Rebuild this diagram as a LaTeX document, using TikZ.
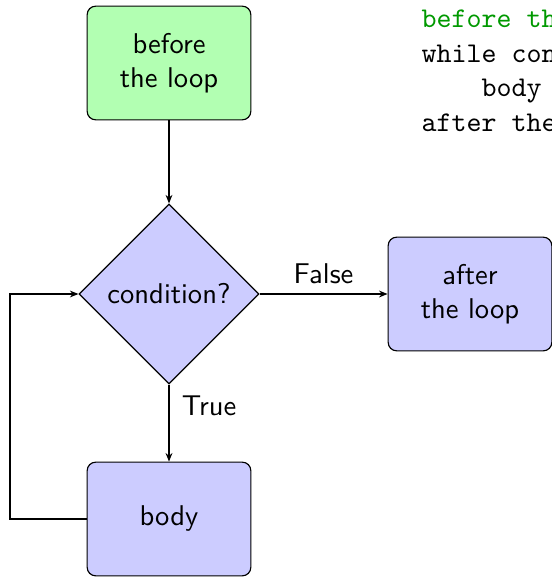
\documentclass[tikz,border=0pt]{standalone}
\usetikzlibrary{shapes.geometric,arrows.meta}
\begin{document}
\begin{tikzpicture}[x=0.35pt,y=-0.35pt,
  font=\sffamily,
  flowbox/.style={draw, rounded corners=3pt, minimum width=57.3pt, minimum height=39.8pt, align=center, inner sep=2pt},
  greenbox/.style={flowbox, fill=green!30},
  bluebox/.style={flowbox, fill=blue!20},
  decision/.style={draw, diamond, fill=blue!20, minimum width=63pt, minimum height=63pt, inner sep=0pt, align=center},
  flow/.style={-{Stealth[length=3pt,width=2.4pt]}},
  codeline/.style={anchor=base west, inner sep=0pt, font=\ttfamily}
]
\useasboundingbox (0,0) rectangle (552,577);
\node[greenbox] (before) at (169,63) {before\\the loop};
\node[decision] (cond) at (169,294) {condition?};
\node[bluebox] (after) at (470,294) {after\\the loop};
\node[bluebox] (body) at (169,519) {body};
\coordinate (loopbl) at (10,519);
\coordinate (looptl) at (10,294);

\draw[flow] (before) -- (cond);
\draw[flow] (cond.east) -- node[above] (lfalse) {False} (after.west);
\draw[flow] (cond.south) -- node[pos=0.27, right, xshift=1pt] (ltrue) {True} (body.north);
\draw[flow] (body.west) -- (loopbl) -- (looptl) -- (cond.west);

\node[codeline, text=green!60!black] (code1) at (421,27.5) {before the loop};
\node[codeline] (code2) at (421,62) {while condition:};
\node[codeline] (code3) at (421,96.5) {\phantom{wwww}body};
\node[codeline] (code4) at (421,131) {after the loop};
\end{tikzpicture}
\end{document}
